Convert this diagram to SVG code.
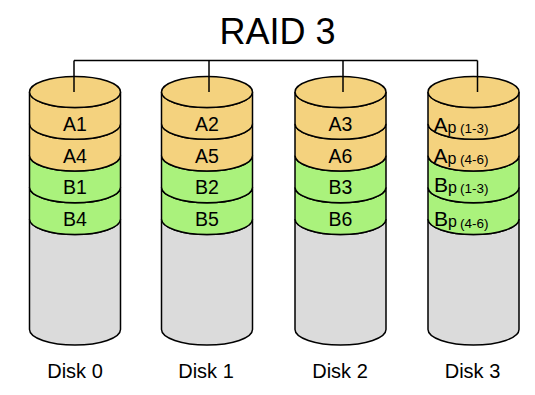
<svg xmlns="http://www.w3.org/2000/svg" width="535" height="395" viewBox="0 0 535 395">
<style>
text{font-family:"Liberation Sans",Arial,sans-serif;fill:#000}
.o{fill:#F4D27E;stroke:#000;stroke-width:1.5}
.g{fill:#AAF27C;stroke:#000;stroke-width:1.5}
.y{fill:#DBDBDB;stroke:#000;stroke-width:1.5}
.lbl{font-size:19.5px;text-anchor:middle}
.dl{font-size:20px;text-anchor:middle}
.big{font-size:21px}
.p{font-size:16px}
.sm{font-size:13.5px}
.c{fill:none;stroke:#000;stroke-width:1.5}
</style>
<defs>
<g id="cyl">
<path class="y" d="M-45.5,219 A45.5,15.5 0 0 0 45.5,219 L45.5,329.5 A45.5,15.5 0 0 1 -45.5,329.5 Z"/>
<path class="g" d="M-45.5,187.25 A45.5,15.5 0 0 0 45.5,187.25 L45.5,219 A45.5,15.5 0 0 1 -45.5,219 Z"/>
<path class="g" d="M-45.5,155.5 A45.5,15.5 0 0 0 45.5,155.5 L45.5,187.25 A45.5,15.5 0 0 1 -45.5,187.25 Z"/>
<path class="o" d="M-45.5,123.75 A45.5,15.5 0 0 0 45.5,123.75 L45.5,155.5 A45.5,15.5 0 0 1 -45.5,155.5 Z"/>
<path class="o" d="M-45.5,92 A45.5,15.5 0 0 0 45.5,92 L45.5,123.75 A45.5,15.5 0 0 1 -45.5,123.75 Z"/>
<ellipse class="o" cx="0" cy="92" rx="45.5" ry="15.5"/>
</g>
</defs>
<rect width="535" height="395" fill="#fff"/>
<text x="277.5" y="44" font-size="36" text-anchor="middle">RAID 3</text>

<g id="disk0">
<use href="#cyl" x="75"/>
<text class="lbl" x="75" y="131">A1</text>
<text class="lbl" x="75" y="163">A4</text>
<text class="lbl" x="75" y="194">B1</text>
<text class="lbl" x="75" y="225.5">B4</text>
<text class="dl" x="75" y="378">Disk 0</text>
</g>
<g id="disk1">
<use href="#cyl" x="207"/>
<text class="lbl" x="207" y="131">A2</text>
<text class="lbl" x="207" y="163">A5</text>
<text class="lbl" x="207" y="194">B2</text>
<text class="lbl" x="207" y="225.5">B5</text>
<text class="dl" x="206" y="378">Disk 1</text>
</g>
<g id="disk2">
<use href="#cyl" x="340.5"/>
<text class="lbl" x="340.5" y="131">A3</text>
<text class="lbl" x="340.5" y="163">A6</text>
<text class="lbl" x="340.5" y="194">B3</text>
<text class="lbl" x="340.5" y="225.5">B6</text>
<text class="dl" x="340" y="378">Disk 2</text>
</g>
<g id="disk3">
<use href="#cyl" x="473.5"/>
<text x="433.5" y="131.5"><tspan class="big">A</tspan><tspan class="p" x="447.5" y="132.5">p</tspan><tspan class="sm" x="460" y="133">(1-3)</tspan></text>
<text x="433.5" y="162.5"><tspan class="big">A</tspan><tspan class="p" x="447.5" y="163.5">p</tspan><tspan class="sm" x="460" y="164">(4-6)</tspan></text>
<text x="434" y="191.5"><tspan class="big">B</tspan><tspan class="p" x="448" y="192.5">p</tspan><tspan class="sm" x="460" y="193">(1-3)</tspan></text>
<text x="434" y="226"><tspan class="big">B</tspan><tspan class="p" x="448" y="227">p</tspan><tspan class="sm" x="460" y="227.5">(4-6)</tspan></text>
<text class="dl" x="472.5" y="378">Disk 3</text>
</g>

<g id="connectors">
<path class="c" d="M74,60.5 H477.5 M74,60.5 V92 M209,60.5 V92 M343,60.5 V92 M477.5,60.5 V92"/>
</g>
</svg>
